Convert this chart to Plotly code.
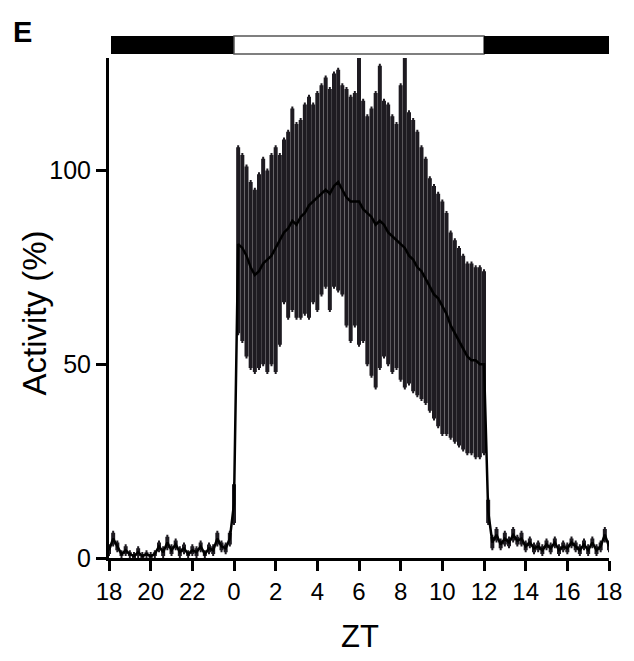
import plotly.graph_objects as go

# sample times in hours relative to lights on (ZT0), 0.2 h bins
zt_hours = [
    -6.0, -5.8, -5.6, -5.4, -5.2, -5.0, -4.8, -4.6, -4.4, -4.2,
    -4.0, -3.8, -3.6, -3.4, -3.2, -3.0, -2.8, -2.6, -2.4, -2.2,
    -2.0, -1.8, -1.6, -1.4, -1.2, -1.0, -0.8, -0.6, -0.4, -0.2,
    0.0, 0.2, 0.4, 0.6, 0.8, 1.0, 1.2, 1.4, 1.6, 1.8,
    2.0, 2.2, 2.4, 2.6, 2.8, 3.0, 3.2, 3.4, 3.6, 3.8,
    4.0, 4.2, 4.4, 4.6, 4.8, 5.0, 5.2, 5.4, 5.6, 5.8,
    6.0, 6.2, 6.4, 6.6, 6.8, 7.0, 7.2, 7.4, 7.6, 7.8,
    8.0, 8.2, 8.4, 8.6, 8.8, 9.0, 9.2, 9.4, 9.6, 9.8,
    10.0, 10.2, 10.4, 10.6, 10.8, 11.0, 11.2, 11.4, 11.6, 11.8,
    12.0, 12.2, 12.4, 12.6, 12.8, 13.0, 13.2, 13.4, 13.6, 13.8,
    14.0, 14.2, 14.4, 14.6, 14.8, 15.0, 15.2, 15.4, 15.6, 15.8,
    16.0, 16.2, 16.4, 16.6, 16.8, 17.0, 17.2, 17.4, 17.6, 17.8,
    18.0,
]

activity_mean = [
    2, 5, 3, 1, 2, 1, 0.5, 1.5, 0.5, 1,
    0.5, 1, 3, 1.5, 4, 2, 3.5, 1.5, 2.5, 1,
    2, 1.5, 3, 1, 2.5, 2, 5, 3, 2.5, 5,
    14, 81, 80, 78, 75, 73, 74, 76, 77, 78,
    80, 82, 84, 85, 87, 86, 88, 89, 91, 92,
    93, 94, 95, 94, 96, 97, 95, 93, 92, 92,
    92, 90, 89, 88, 86, 87, 86, 84, 83, 82,
    81, 80, 78, 77, 75, 74, 72, 70, 68, 67,
    65, 63, 60, 58, 56, 54, 52, 51, 51, 50,
    50, 12, 4, 6, 3.5, 5, 4, 6, 4.5, 5,
    3, 4, 2.5, 3, 2, 3.5, 2.5, 4, 2, 3,
    2.5, 4, 3, 2, 3.5, 2, 4, 2, 3, 6,
    3,
]

# error bar extent above the mean
activity_err_up = [
    1, 1.5, 1, 0.5, 1, 0.5, 0.5, 1, 0.5, 0.5,
    0.5, 0.5, 1, 1, 1.5, 1, 1, 1, 1, 0.5,
    1, 1, 1, 0.5, 1, 1, 1.5, 1, 1, 1.5,
    5, 25, 24, 23, 22, 22, 25, 27, 23, 26,
    26, 22, 24, 25, 29, 26, 25, 28, 28, 25,
    27, 28, 29, 27, 29, 29, 27, 28, 27, 28,
    37, 28, 25, 28, 34, 40, 32, 33, 31, 30,
    41, 49, 37, 36, 35, 32, 31, 28, 28, 27,
    27, 26, 24, 24, 24, 24, 24, 25, 24, 25,
    24, 3, 1.5, 1.5, 1, 1.5, 1, 1.5, 1, 1.5,
    1, 1, 1, 1, 1, 1, 1, 1, 1, 1,
    1, 1, 1, 1, 1, 1, 1, 1, 1, 1.5,
    1,
]

# error bar extent below the mean
activity_err_down = [
    1, 1.5, 1, 0.5, 1, 0.5, 0.5, 1, 0.5, 0.5,
    0.5, 0.5, 1, 1, 1.5, 1, 1, 1, 1, 0.5,
    1, 1, 1, 0.5, 1, 1, 1.5, 1, 1, 1.5,
    5, 23, 24, 26, 26, 25, 25, 26, 29, 28,
    32, 27, 18, 23, 23, 24, 26, 26, 29, 26,
    29, 26, 25, 30, 26, 28, 27, 33, 36, 32,
    37, 34, 39, 41, 42, 38, 34, 34, 35, 33,
    35, 36, 33, 34, 33, 33, 32, 32, 32, 33,
    33, 31, 29, 28, 27, 26, 25, 24, 25, 24,
    23, 3, 1.5, 1.5, 1, 1.5, 1, 1.5, 1, 1.5,
    1, 1, 1, 1, 1, 1, 1, 1, 1, 1,
    1, 1, 1, 1, 1, 1, 1, 1, 1, 1.5,
    1,
]

tick_hours = [-6, -4, -2, 0, 2, 4, 6, 8, 10, 12, 14, 16, 18]
tick_labels = ['18', '20', '22', '0', '2', '4', '6', '8', '10', '12', '14', '16', '18']

FONT = 'Liberation Sans, Arial, sans-serif'

fig = go.Figure()
fig.add_trace(go.Scatter(
    x=zt_hours, y=activity_mean, mode='lines',
    line=dict(color='black', width=2.5),
    error_y=dict(type='data', symmetric=False, array=activity_err_up,
                 arrayminus=activity_err_down, visible=True,
                 color='#1e1b21', thickness=4.0, width=1),
    showlegend=False, hoverinfo='skip'))

# light/dark bar above the plot
bar_y0, bar_y1 = 1.008, 1.044
shapes = [
    dict(type='rect', xref='paper', yref='paper', x0=0.004, x1=0.25,
         y0=bar_y0, y1=bar_y1, fillcolor='black', line=dict(width=0)),
    dict(type='rect', xref='paper', yref='paper', x0=0.25, x1=0.75,
         y0=bar_y0, y1=bar_y1, fillcolor='white',
         line=dict(color='#555555', width=1.5)),
    dict(type='rect', xref='paper', yref='paper', x0=0.75, x1=1.0,
         y0=bar_y0, y1=bar_y1, fillcolor='black', line=dict(width=0)),
]

annotations = [
    dict(text='Activity (%)', xref='paper', yref='paper', x=-0.151, y=0.49,
         textangle=-90, showarrow=False, xanchor='center', yanchor='middle',
         font=dict(family=FONT, size=33, color='black')),
    dict(text='ZT', xref='paper', yref='paper', x=0.502, y=-0.156,
         showarrow=False, xanchor='center', yanchor='middle',
         font=dict(family=FONT, size=31, color='black')),
    dict(text='<b>E</b>', xref='paper', yref='paper', x=-0.196, y=1.052,
         showarrow=False, xanchor='left', yanchor='middle',
         font=dict(family=FONT, size=29, color='black')),
]

# page body adds an 8px offset, so the figure is 8px smaller than the window
fig.update_layout(
    width=626, height=653,
    margin=dict(l=101, r=21, t=50, b=103),
    plot_bgcolor='white', paper_bgcolor='white',
    shapes=shapes, annotations=annotations,
    font=dict(family=FONT, color='black'),
)
fig.update_xaxes(
    range=[-6, 18], tickvals=tick_hours, ticktext=tick_labels,
    showgrid=False, zeroline=False, showline=True, linecolor='black', linewidth=3,
    ticks='outside', ticklen=10, tickwidth=2.5, tickcolor='black',
    tickfont=dict(family=FONT, size=24, color='black'))
fig.update_yaxes(
    range=[0, 129], tickvals=[0, 50, 100],
    showgrid=False, zeroline=False, showline=True, linecolor='black', linewidth=3,
    ticks='outside', ticklen=10, tickwidth=2.5, tickcolor='black',
    tickfont=dict(family=FONT, size=25, color='black'))

fig.write_html('out.html')
